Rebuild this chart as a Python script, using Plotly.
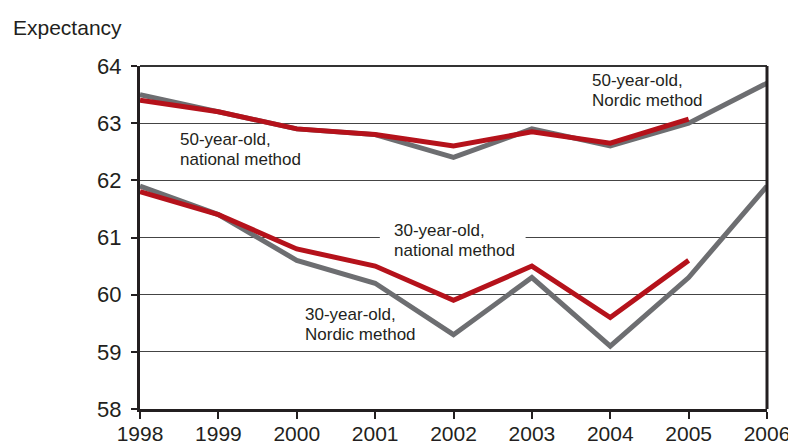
import plotly.graph_objects as go

years = [1998, 1999, 2000, 2001, 2002, 2003, 2004, 2005, 2006]
nordic_50 = [63.5, 63.2, 62.9, 62.8, 62.4, 62.9, 62.6, 63.0, 63.7]
national_50 = [63.4, 63.2, 62.9, 62.8, 62.6, 62.85, 62.65, 63.07]
nordic_30 = [61.9, 61.4, 60.6, 60.2, 59.3, 60.3, 59.1, 60.3, 61.9]
national_30 = [61.8, 61.4, 60.8, 60.5, 59.9, 60.5, 59.6, 60.6]
y_ticks = [58, 59, 60, 61, 62, 63, 64]

GRAY = "#6d6e71"
RED = "#b5121b"
INK = "#231f20"
FONT = "Liberation Sans, Arial, sans-serif"

fig = go.Figure()
fig.add_trace(go.Scatter(x=years, y=nordic_50, mode="lines", line=dict(color=GRAY, width=5), name="50 Nordic"))
fig.add_trace(go.Scatter(x=years[:len(national_50)], y=national_50, mode="lines", line=dict(color=RED, width=5), name="50 national"))
fig.add_trace(go.Scatter(x=years, y=nordic_30, mode="lines", line=dict(color=GRAY, width=5), name="30 Nordic"))
fig.add_trace(go.Scatter(x=years[:len(national_30)], y=national_30, mode="lines", line=dict(color=RED, width=5), name="30 national"))

ann_font = dict(family=FONT, size=17, color=INK)
labels = [
    (1998.48, 62.71, "50-year-old,"), (1998.48, 62.36, "national method"),
    (2003.74, 63.755, "50-year-old,"), (2003.74, 63.405, "Nordic method"),
    (2001.21, 61.114, "30-year-old,"), (2001.21, 60.764, "national method"),
    (2000.08, 59.645, "30-year-old,"), (2000.08, 59.295, "Nordic method"),
]
for lx, ly, txt in labels:
    fig.add_annotation(x=lx, y=ly, text=txt, showarrow=False, xanchor="left", yanchor="middle",
                       font=ann_font)

# white patch behind the "30-year-old, national method" label (breaks the gridline)
fig.add_shape(type="rect", x0=2001.06, x1=2002.92, y0=60.68, y1=61.24, layer="between",
              fillcolor="white", line=dict(width=0))

fig.add_annotation(x=-0.206, y=1.111, xref="paper", yref="paper", xanchor="left", yanchor="middle",
                   text="Expectancy", showarrow=False, font=dict(family=FONT, size=21, color=INK))

# top and right frame
fig.add_shape(type="line", xref="paper", yref="paper", x0=0, x1=1, y0=1, y1=1,
              line=dict(color="#333333", width=2))
fig.add_shape(type="line", xref="paper", yref="paper", x0=1, x1=1, y0=0, y1=1,
              line=dict(color=INK, width=3))

fig.update_layout(
    width=796, height=436,
    margin=dict(l=132, r=37, t=58, b=35),
    paper_bgcolor="white", plot_bgcolor="white",
    showlegend=False,
    font=dict(family=FONT, color=INK),
    xaxis=dict(range=[1998, 2006], tickmode="array", tickvals=years, ticktext=[str(y) for y in years],
               showgrid=False, zeroline=False, showline=True, linecolor=INK, linewidth=3,
               ticks="outside", ticklen=7, tickwidth=2, tickcolor=INK, automargin=False,
               ticklabelstandoff=-3,
               tickfont=dict(size=21, family=FONT, color=INK)),
    yaxis=dict(range=[58, 64], tickmode="array", tickvals=y_ticks, showgrid=True,
               gridcolor="#444444", gridwidth=1, zeroline=False, showline=True, automargin=False,
               linecolor=INK, linewidth=3, ticks="outside", ticklen=6, tickwidth=2,
               ticklabelstandoff=5,
               tickcolor=INK, tickfont=dict(size=22, family=FONT, color=INK)),
)

fig.write_html("out.html")
